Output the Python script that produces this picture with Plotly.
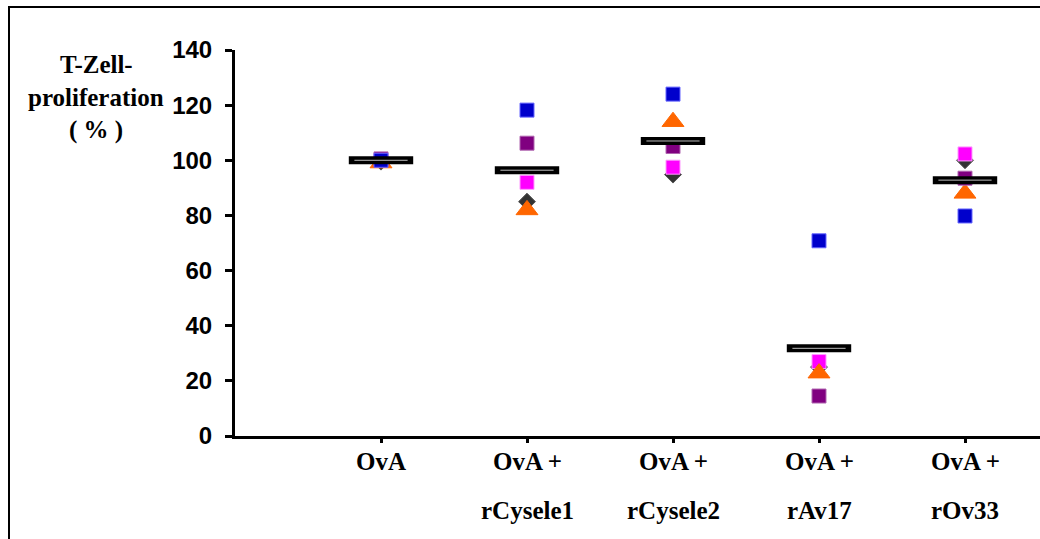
import plotly.graph_objects as go

# Treatment groups (x positions 1..5) and their two-line labels
groups = ["OvA", "OvA + rCysele1", "OvA + rCysele2", "OvA + rAv17", "OvA + rOv33"]
label_top = ["OvA", "OvA +", "OvA +", "OvA +", "OvA +"]
label_bottom = ["", "rCysele1", "rCysele2", "rAv17", "rOv33"]
group_pos = [1, 2, 3, 4, 5]

# T-cell proliferation (%) per experiment
exp_diamond = [99.5, 85.0, 94.8, 25.0, 100.0]
exp_magenta = [100.0, 92.0, 97.5, 27.0, 102.3]
exp_triangle = [99.0, 82.0, 114.0, 22.8, 88.0]
exp_purple = [100.5, 106.2, 105.0, 14.5, 93.5]
exp_blue = [100.0, 118.2, 124.0, 70.8, 79.8]

# Group means
means = [100.0, 96.4, 107.0, 31.8, 92.8]

y_ticks = [0, 20, 40, 60, 80, 100, 120, 140]

fig = go.Figure()

series = [
    ("Versuch 1", exp_diamond, "diamond", 13, "#333333", "#555555"),
    ("Versuch 2", exp_magenta, "square", 14, "#FF00FF", "#FF99FF"),
    ("Versuch 3", exp_triangle, "triangle-up", 19, "#FF6600", "#FF6600"),
    ("Versuch 4", exp_purple, "square", 14, "#800080", "#B066B0"),
    ("Versuch 5", exp_blue, "square", 14, "#0000CC", "#6666FF"),
]
for name, vals, sym, size, fill, edge in series:
    fig.add_trace(go.Scatter(
        x=group_pos, y=vals, mode="markers", name=name, showlegend=False,
        marker=dict(symbol=sym, size=size, color=fill,
                    line=dict(color=edge, width=1)),
        cliponaxis=False,
    ))

# Mean bars: thick black dash with a thin light inner line
fig.add_trace(go.Scatter(
    x=group_pos, y=means, mode="markers", name="Mittelwert", showlegend=False,
    marker=dict(symbol="line-ew", size=46, line=dict(color="black", width=8)),
    cliponaxis=False,
))
fig.add_trace(go.Scatter(
    x=group_pos, y=means, mode="markers", name="Mittelwert", showlegend=False,
    marker=dict(symbol="line-ew", size=38, line=dict(color="#BBBBBB", width=1)),
    cliponaxis=False, hoverinfo="skip",
))

tick_font = dict(family="Liberation Sans", size=24, color="black")
label_font = dict(family="Liberation Serif", size=25, color="black")

fig.update_layout(
    width=1040, height=539,
    margin=dict(l=235, r=0, t=50, b=103),
    paper_bgcolor="white", plot_bgcolor="white",
    xaxis=dict(
        range=[0, 805 / 146], showgrid=False, zeroline=False,
        showline=True, linecolor="black", linewidth=3,
        tickmode="array", tickvals=group_pos, ticktext=[""] * 5,
        ticks="outside", ticklen=4, tickwidth=3, tickcolor="black",
    ),
    yaxis=dict(
        range=[0, 140], showgrid=False, zeroline=False,
        showline=True, linecolor="black", linewidth=3,
        tickmode="array", tickvals=y_ticks,
        ticktext=[f"<b>{v}</b>" for v in y_ticks],
        ticks="outside", ticklen=7, tickwidth=3, tickcolor="black",
        ticklabelstandoff=8,
        tickfont=tick_font,
    ),
)

# Category labels, two rows below the x axis
for pos, top, bottom in zip(group_pos, label_top, label_bottom):
    fig.add_annotation(x=pos, xref="x", y=-25 / 386, yref="paper",
                       text=f"<b>{top}</b>", showarrow=False,
                       font=label_font, xanchor="center", yanchor="middle")
    if bottom:
        fig.add_annotation(x=pos, xref="x", y=-74 / 386, yref="paper",
                           text=f"<b>{bottom}</b>", showarrow=False,
                           font=label_font, xanchor="center", yanchor="middle")

# Y axis title in three lines
title_lines = ["T-Zell-", "proliferation", "( % )"]
title_y = [64, 97, 130]
for line, py in zip(title_lines, title_y):
    fig.add_annotation(x=(96 - 235) / 805, xref="paper",
                       y=(436 - py) / 386, yref="paper",
                       text=f"<b>{line}</b>", showarrow=False,
                       font=label_font, xanchor="center", yanchor="middle")

# Outer frame (top and left edges visible)
fig.add_shape(type="rect", xref="paper", yref="paper",
              x0=(9 - 235) / 805, x1=(1060 - 235) / 805,
              y0=(436 - 560) / 386, y1=(436 - 7) / 386,
              line=dict(color="black", width=2), fillcolor="rgba(0,0,0,0)",
              layer="below")

fig.write_html("out.html")
